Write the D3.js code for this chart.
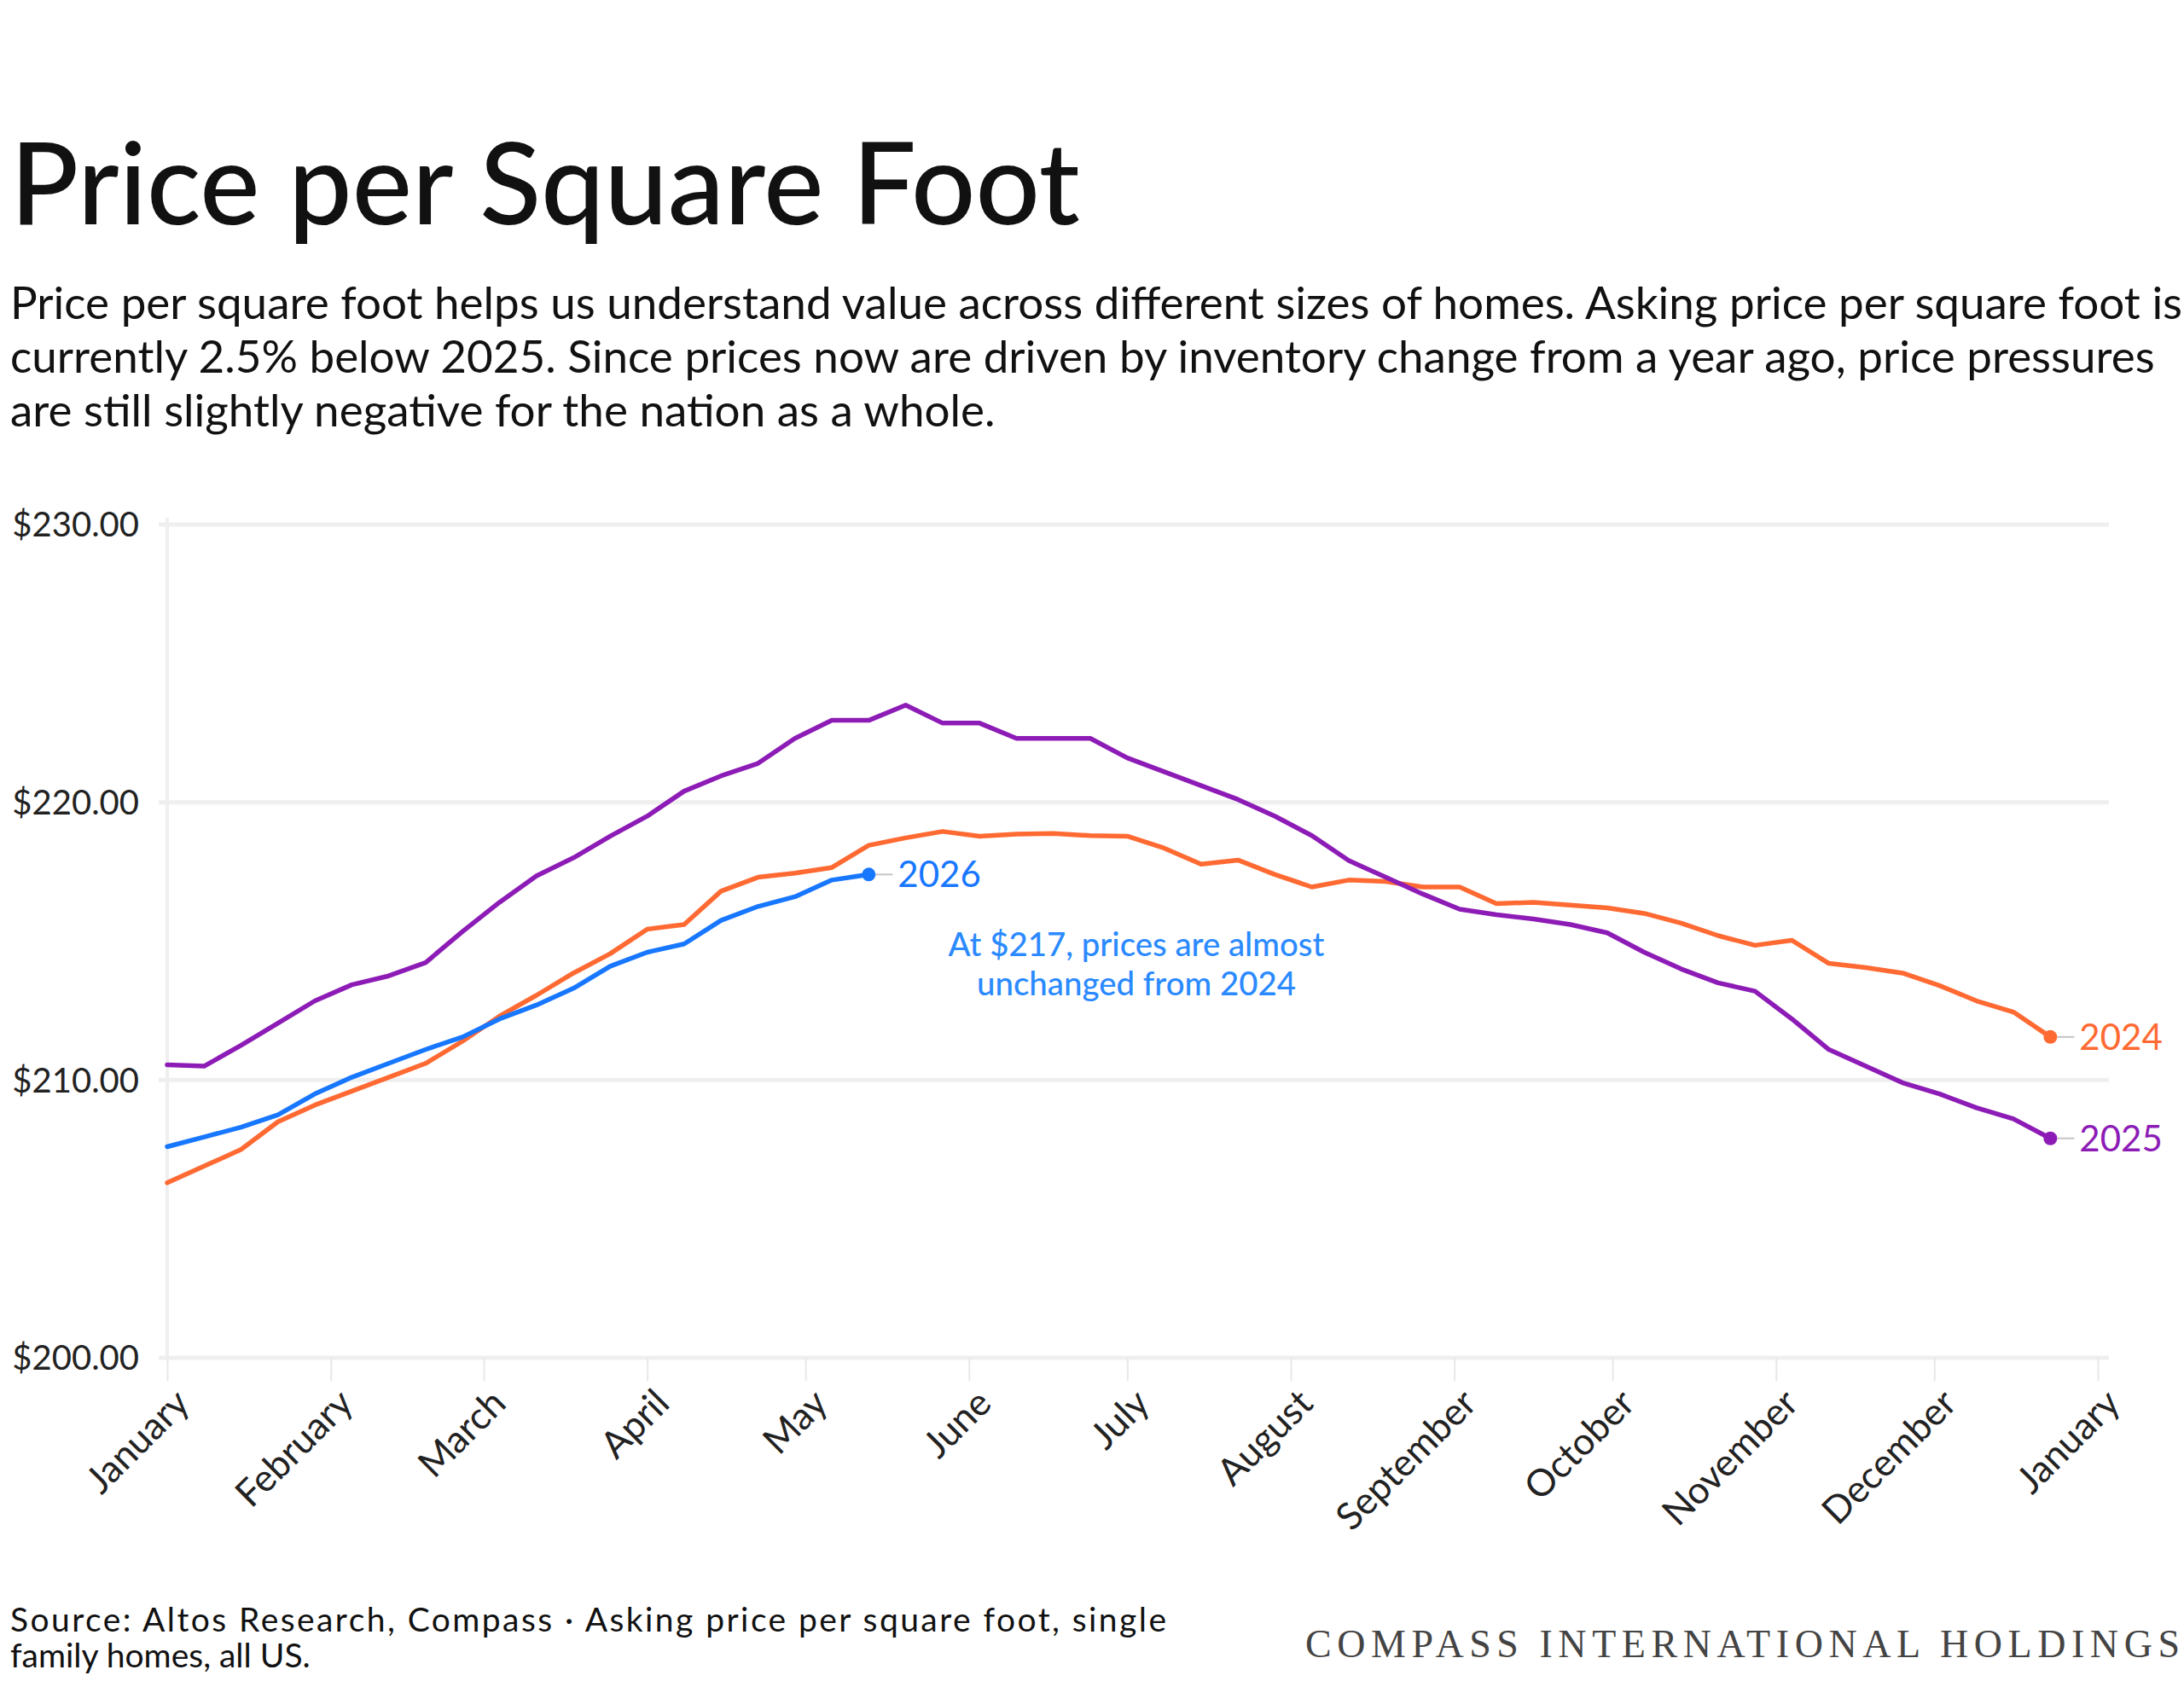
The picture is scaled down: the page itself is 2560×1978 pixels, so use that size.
<!DOCTYPE html>
<html>
<head>
<meta charset="utf-8">
<script src="https://cdn.jsdelivr.net/npm/d3@7"></script>
<style>
  html, body { margin: 0; padding: 0; background: #fff; }
  svg { display: block; }
</style>
</head>
<body>
<svg id="chart" width="2560" height="1978"></svg>
<script>
// weekly observations (Mondays), drawn on a common calendar year
const weeks = [
  "01-01","01-08","01-15","01-22","01-29","02-05","02-12","02-19","02-26",
  "03-04","03-11","03-18","03-25","04-01","04-08","04-15","04-22","04-29",
  "05-06","05-13","05-20","05-27","06-03","06-10","06-17","06-24",
  "07-01","07-08","07-15","07-22","07-29","08-05","08-12","08-19","08-26",
  "09-02","09-09","09-16","09-23","09-30","10-07","10-14","10-21","10-28",
  "11-04","11-11","11-18","11-25","12-02","12-09","12-16","12-23"
];

const price2024 = [
  206.3, 206.9, 207.5, 208.5, 209.1, 209.6, 210.1, 210.6, 211.4, 212.3,
  213.05, 213.85, 214.55, 215.43, 215.6, 216.8, 217.3, 217.45, 217.65, 218.45,
  218.72, 218.95, 218.78, 218.85, 218.88, 218.8, 218.78, 218.35, 217.77, 217.92,
  217.4, 216.95, 217.2, 217.15, 216.95, 216.95, 216.35, 216.4, 216.3, 216.2,
  216.0, 215.65, 215.2, 214.85, 215.03, 214.2, 214.05, 213.85, 213.4, 212.85,
  212.45, 211.55
];

const price2025 = [
  210.55, 210.5, 211.25, 212.05, 212.85, 213.43, 213.75, 214.23, 215.35, 216.4,
  217.35, 218.0, 218.78, 219.5, 220.4, 220.95, 221.4, 222.3, 222.95, 222.95,
  223.5, 222.85, 222.85, 222.3, 222.3, 222.3, 221.6, 221.1, 220.6, 220.1,
  219.5, 218.8, 217.9, 217.3, 216.7, 216.15, 215.95, 215.8, 215.6, 215.3,
  214.6, 214.0, 213.5, 213.2, 212.2, 211.1, 210.5, 209.9, 209.5, 209.0,
  208.6, 207.9
];

const price2026 = [
  207.6, 207.95, 208.3, 208.75, 209.5, 210.1, 210.6, 211.1, 211.55, 212.2,
  212.7, 213.3, 214.1, 214.6, 214.9, 215.75, 216.25, 216.6, 217.2, 217.4
];

const seriesNames = ["2024", "2025", "2026"];
const seriesColors = ["#ff6a33", "#8d1cb6", "#1877ff"];
const yTicks = [200, 210, 220, 230];
const monthLabels = ["January", "February", "March", "April", "May", "June", "July",
  "August", "September", "October", "November", "December", "January"];

const titleText = "Price per Square Foot";
const bodyLines = [
  "Price per square foot helps us understand value across different sizes of homes. Asking price per square foot is",
  "currently 2.5% below 2025. Since prices now are driven by inventory change from a year ago, price pressures",
  "are still slightly negative for the nation as a whole."
];
const noteLines = ["At $217, prices are almost", "unchanged from 2024"];
const sourceLines = [
  "Source: Altos Research, Compass \u00b7 Asking price per square foot, single",
  "family homes, all US."
];
const brandText = "COMPASS INTERNATIONAL HOLDINGS";

const font = "Lato, 'Noto Sans', sans-serif";
const svg = d3.select("#chart");
svg.append("rect").attr("width", 2560).attr("height", 1978).attr("fill", "#fff");

// shrink/grow a text's font so it reaches a target width
function fitFont(sel, size, target) {
  sel.style("font-size", size + "px");
  const w = sel.node().getComputedTextLength();
  const s = size * target / w;
  sel.style("font-size", s + "px");
  return s;
}

// header
const title = svg.append("text")
  .attr("x", 12).attr("y", 263)
  .style("font-family", font).style("font-weight", 500)
  .attr("fill", "#111")
  .text(titleText);
fitFont(title, 130, 1254);

const bodySize = (() => {
  const probe = svg.append("text").style("font-family", font).text(bodyLines[1]);
  const s = fitFont(probe, 50, 2514);
  probe.remove();
  return s;
})();
svg.append("g").selectAll("text")
  .data(bodyLines)
  .join("text")
  .attr("x", 12)
  .attr("y", (d, i) => 374 + i * 63)
  .style("font-family", font).style("font-size", bodySize + "px")
  .attr("fill", "#111")
  .text(d => d);

// chart
const parse = d3.timeParse("%Y-%m-%d");
const x = d3.scaleTime()
  .domain([new Date(2024, 0, 1), new Date(2025, 0, 1)])
  .range([196, 2459]);
const y = d3.scaleLinear()
  .domain([200, 230])
  .range([1592, 615]);

const grid = svg.append("g");
grid.selectAll("line")
  .data(yTicks)
  .join("line")
  .attr("x1", 186).attr("x2", 2472)
  .attr("y1", d => y(d)).attr("y2", d => y(d))
  .attr("stroke", "#efefef").attr("stroke-width", 5);
grid.append("line")
  .attr("x1", x.range()[0]).attr("x2", x.range()[0])
  .attr("y1", y(230) - 8).attr("y2", y(200))
  .attr("stroke", "#efefef").attr("stroke-width", 4);

svg.append("g").selectAll("text")
  .data(yTicks)
  .join("text")
  .attr("x", 163)
  .attr("y", d => y(d))
  .attr("dy", "0.36em")
  .attr("text-anchor", "end")
  .style("font-family", font).style("font-size", "40px")
  .attr("fill", "#222")
  .text(d => d3.format("$.2f")(d));

const monthTicks = d3.timeMonth.range(new Date(2024, 0, 1), new Date(2025, 0, 2));
const xAxis = svg.append("g")
  .attr("transform", `translate(0,${y(200)})`)
  .call(d3.axisBottom(x)
    .tickValues(monthTicks)
    .tickSize(27)
    .tickFormat((d, i) => monthLabels[i]));
xAxis.select(".domain").remove();
xAxis.selectAll(".tick line").attr("stroke", "#e8e8e8").attr("stroke-width", 2);
xAxis.selectAll(".tick text")
  .attr("y", 0).attr("dy", 0)
  .attr("text-anchor", "end")
  .attr("transform", "translate(28,56) rotate(-45)")
  .style("font-family", font).style("font-size", "44px")
  .attr("fill", "#222");

const series = seriesNames.map((name, k) => ({
  name,
  color: seriesColors[k],
  values: [price2024, price2025, price2026][k].map((v, i) => ({ date: parse("2024-" + weeks[i]), value: v }))
}));

const line = d3.line()
  .x(d => x(d.date))
  .y(d => y(d.value));

const lines = svg.append("g");
lines.selectAll("path")
  .data(series)
  .join("path")
  .attr("d", d => line(d.values))
  .attr("fill", "none")
  .attr("stroke", d => d.color)
  .attr("stroke-width", 5.5)
  .attr("stroke-linejoin", "round")
  .attr("stroke-linecap", "round");

const ends = svg.append("g").selectAll("g")
  .data(series)
  .join("g")
  .attr("transform", d => {
    const last = d.values[d.values.length - 1];
    return `translate(${x(last.date)},${y(last.value)})`;
  });
ends.append("line")
  .attr("x1", 8).attr("x2", 28)
  .attr("stroke", "#c4c4c4").attr("stroke-width", 2);
ends.append("circle")
  .attr("r", 8)
  .attr("fill", d => d.color);
ends.append("text")
  .attr("x", 34)
  .attr("dy", "0.36em")
  .style("font-family", font).style("font-size", "42px")
  .attr("fill", d => d.color)
  .text(d => d.name);

// annotation
const noteSize = (() => {
  const probe = svg.append("text").style("font-family", font).style("font-weight", 500).text(noteLines[0]);
  const s = fitFont(probe, 34, 441);
  probe.remove();
  return s;
})();
svg.append("g").selectAll("text")
  .data(noteLines)
  .join("text")
  .attr("x", 1332)
  .attr("y", (d, i) => 1107 + i * 46)
  .attr("dy", "0.36em")
  .attr("text-anchor", "middle")
  .style("font-family", font).style("font-weight", 500)
  .style("font-size", noteSize + "px")
  .attr("fill", "#2b8aff")
  .text(d => d);

// footer
const source = svg.append("g").selectAll("text")
  .data(sourceLines)
  .join("text")
  .attr("x", 12)
  .attr("y", (d, i) => 1913 + i * 42)
  .style("font-family", font).style("font-size", "39px")
  .attr("fill", "#111")
  .text(d => d);
source.filter((d, i) => i === 0)
  .attr("textLength", 1355).attr("lengthAdjust", "spacing");

svg.append("text")
  .attr("x", 1530).attr("y", 1943)
  .attr("textLength", 1025).attr("lengthAdjust", "spacing")
  .style("font-family", "'Liberation Serif', serif").style("font-size", "46px")
  .attr("fill", "#444")
  .text(brandText);
</script>
</body>
</html>
